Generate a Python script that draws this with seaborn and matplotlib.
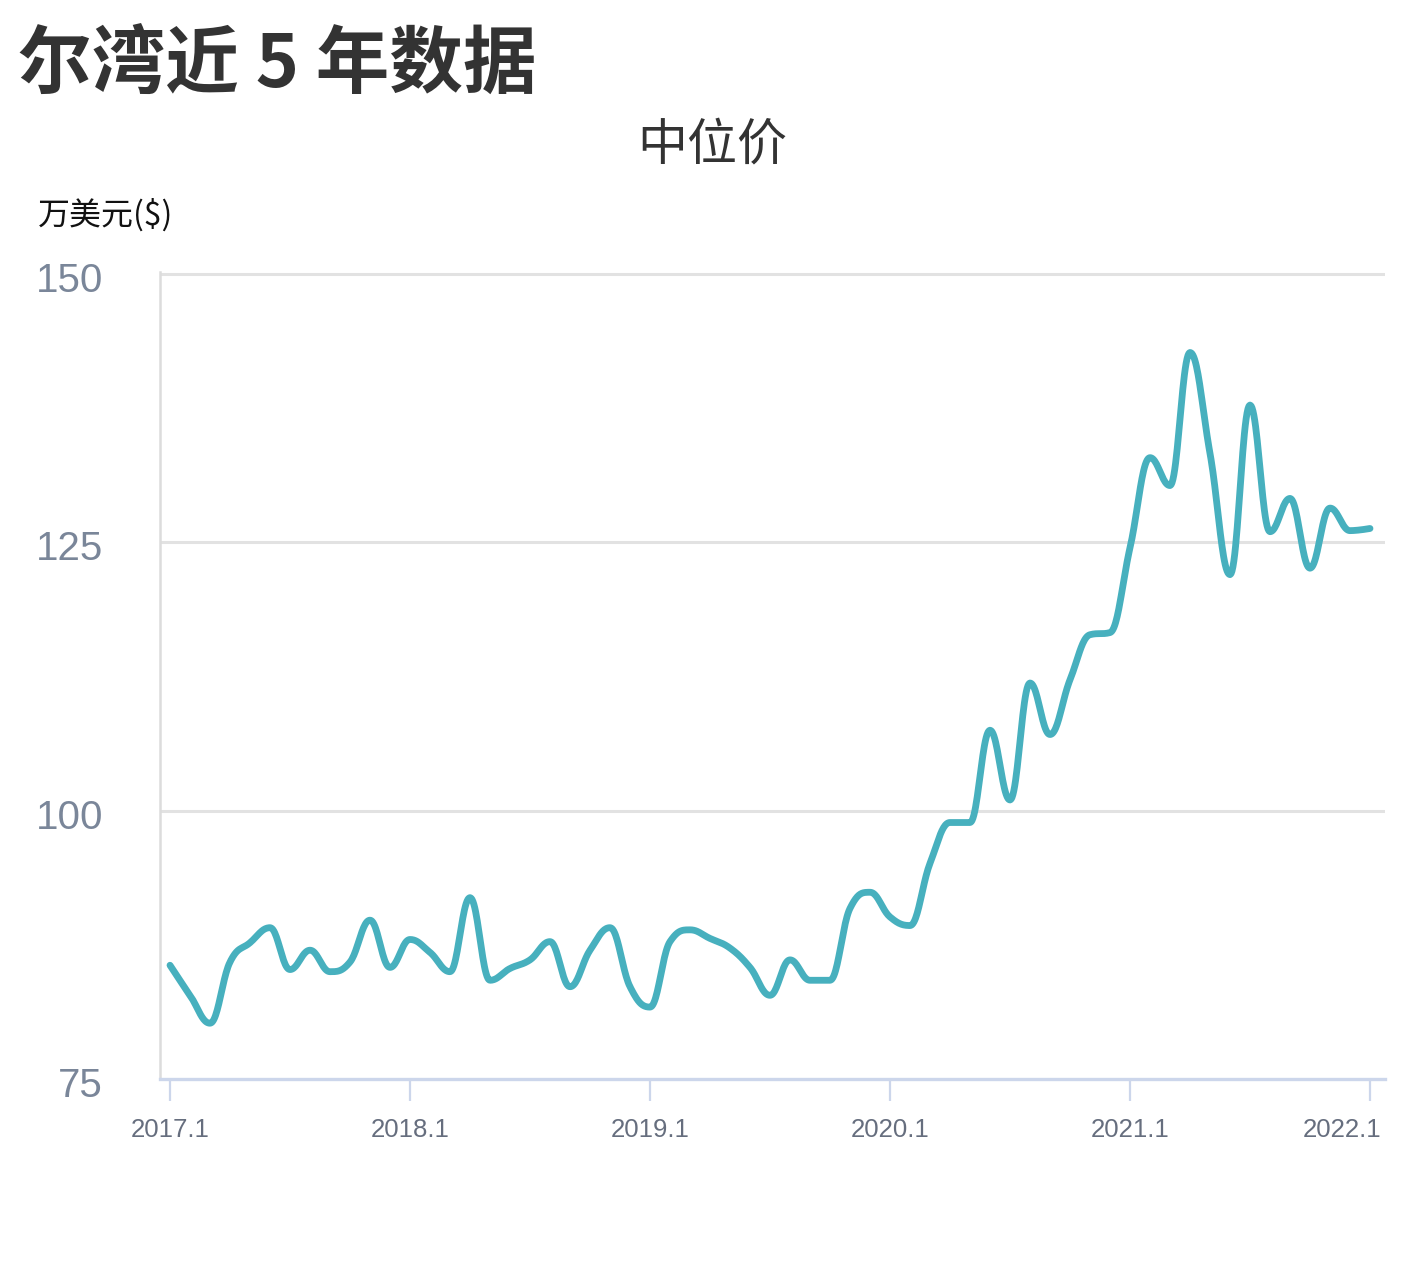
import numpy as np
import pandas as pd
import seaborn as sns
import matplotlib
matplotlib.use("Agg")
import matplotlib.pyplot as plt
from matplotlib.transforms import ScaledTranslation

# ---- data (monthly median price, 万美元) ----
month_index = list(range(61))  # 2017.1 ... 2022.1
median_price = [
    85.6, 82.8, 80.2, 85.9, 87.7, 89.1, 85.2, 87.0, 85.0, 85.9, 89.8, 85.4,
    88.0, 86.8, 85.0, 91.9, 84.2, 85.3, 86.1, 87.8, 83.6, 87.0, 89.1, 83.6,
    81.7, 87.8, 88.9, 88.1, 87.2, 85.4, 82.8, 86.1, 84.2, 84.2, 90.9, 92.4,
    90.1, 89.3, 95.1, 98.9, 98.9, 107.5, 101.0, 111.9, 107.1, 112.2, 116.4, 116.6,
    124.5, 132.9, 130.3, 142.7, 133.3, 122.0, 137.8, 126.0, 129.1, 122.6, 128.2, 126.1,
    126.3,
]
tick_positions = [0, 12, 24, 36, 48, 60]
tick_labels = ["2017.1", "2018.1", "2019.1", "2020.1", "2021.1", "2022.1"]
y_ticks = [75, 100, 125, 150]

title = "尔湾近 5 年数据"
subtitle = "中位价"
unit_label = "万美元($)"


def spline_path(xv, yv, smoothing=1.5, n=24):
    """Highcharts-style spline smoothing of the data points."""
    xv = np.asarray(xv, float)
    yv = np.asarray(yv, float)
    m = len(xv)
    lcx, lcy, rcx, rcy = xv.copy(), yv.copy(), xv.copy(), yv.copy()
    denom = smoothing + 1
    for i in range(1, m - 1):
        px, py = xv[i], yv[i]
        lx, ly = xv[i - 1], yv[i - 1]
        nx, ny = xv[i + 1], yv[i + 1]
        lX = (smoothing * px + lx) / denom
        lY = (smoothing * py + ly) / denom
        rX = (smoothing * px + nx) / denom
        rY = (smoothing * py + ny) / denom
        corr = 0.0
        if rX != lX:
            corr = (rY - lY) * (rX - px) / (rX - lX) + py - rY
        lY += corr
        rY += corr
        if lY > ly and lY > py:
            lY = max(ly, py); rY = 2 * py - lY
        elif lY < ly and lY < py:
            lY = min(ly, py); rY = 2 * py - lY
        if rY > ny and rY > py:
            rY = max(ny, py); lY = 2 * py - rY
        elif rY < ny and rY < py:
            rY = min(ny, py); lY = 2 * py - rY
        lcx[i], lcy[i], rcx[i], rcy[i] = lX, lY, rX, rY
    xs, ys = [xv[0]], [yv[0]]
    t = np.linspace(0, 1, n)[1:]
    for i in range(1, m):
        p0 = (xv[i - 1], yv[i - 1]); p1 = (rcx[i - 1], rcy[i - 1])
        p2 = (lcx[i], lcy[i]); p3 = (xv[i], yv[i])
        a = (1 - t) ** 3; b = 3 * (1 - t) ** 2 * t; c = 3 * (1 - t) * t ** 2; d = t ** 3
        xs.extend(a * p0[0] + b * p1[0] + c * p2[0] + d * p3[0])
        ys.extend(a * p0[1] + b * p1[1] + c * p2[1] + d * p3[1])
    return np.array(xs), np.array(ys)


sns.set_theme(style="white")
plt.rcParams["font.family"] = ["Liberation Sans", "Noto Sans CJK SC", "DejaVu Sans"]

fig = plt.figure(figsize=(14.22, 12.8), dpi=100)
ax = fig.add_axes([160 / 1422, 1 - 1079 / 1280, (1385 - 160) / 1422, (1079 - 272) / 1280])

sx, sy = spline_path(month_index, median_price)
smooth_df = pd.DataFrame({"x": sx, "y": sy})
sns.lineplot(data=smooth_df, x="x", y="y", sort=False, estimator=None,
             color="#47b0be", linewidth=4.9, ax=ax,
             solid_capstyle="round", solid_joinstyle="round")

ax.set_xlim(-0.5, 60.75)
ax.set_ylim(75, 150.2)
ax.set_xlabel("")
ax.set_ylabel("")

# grid
ax.set_yticks(y_ticks)
ax.set_yticklabels([str(v) for v in y_ticks])
for v in y_ticks[1:]:
    ax.axhline(v, color="#e2e2e2", linewidth=2.2, zorder=0)
ax.grid(False)

# spines
for s in ["top", "right"]:
    ax.spines[s].set_visible(False)
ax.spines["left"].set_color("#dcdcdc")
ax.spines["left"].set_linewidth(1.8)
ax.spines["bottom"].set_color("#ccd6eb")
ax.spines["bottom"].set_linewidth(2.4)

ax.set_xticks(tick_positions)
ax.set_xticklabels(tick_labels)
ax.tick_params(axis="x", bottom=True, length=16, width=1.6, color="#ccd6eb",
               labelsize=18.5, labelcolor="#666e7e", pad=12)
ax.tick_params(axis="y", left=False, length=0, labelsize=29,
               labelcolor="#7a8699", pad=41)

for lab in ax.get_yticklabels():
    lab.set_transform(lab.get_transform() +
                      ScaledTranslation(0, -3 / 100, fig.dpi_scale_trans))

labs = ax.get_xticklabels()
labs[-1].set_horizontalalignment("right")
labs[-1].set_transform(labs[-1].get_transform() +
                       ScaledTranslation(11 / 100, 0, fig.dpi_scale_trans))

# texts
cjk = ["Noto Sans CJK SC", "DejaVu Sans"]
fig.text(18 / 1422, 1 - 66 / 1280, title, family=cjk, fontsize=53,
         fontweight="bold", color="#333333", ha="left", va="center")
fig.text(712 / 1422, 1 - 146 / 1280, subtitle, family=cjk, fontsize=36,
         color="#333333", ha="center", va="center")
fig.text(38 / 1422, 1 - 215 / 1280, unit_label, family=cjk, fontsize=23,
         color="#111111", ha="left", va="center")

fig.savefig("out.png", dpi=100, facecolor="white")
